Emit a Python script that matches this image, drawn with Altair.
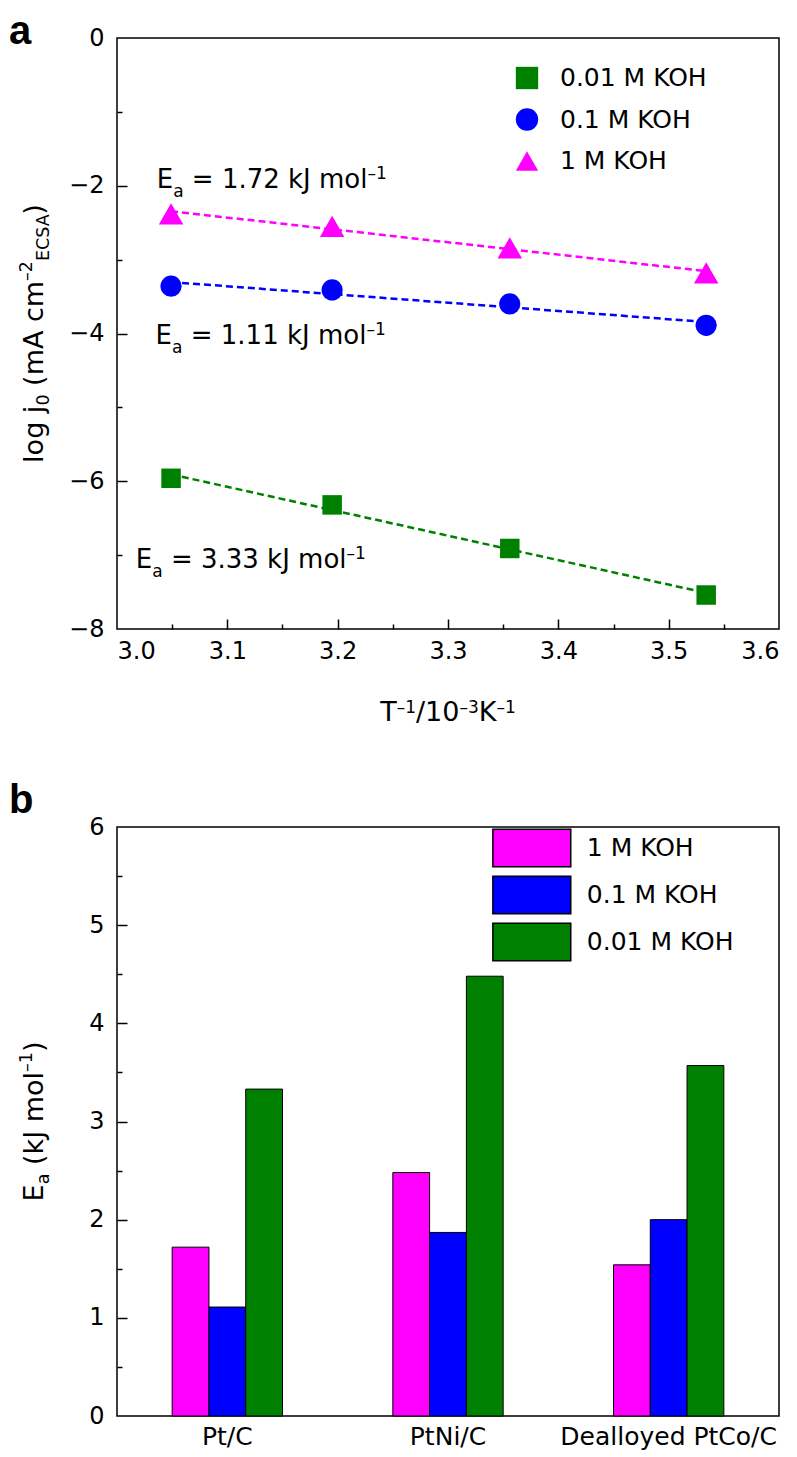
import altair as alt
import pandas as pd

# ---------------- data: panel a ----------------
inv_T = [3.049, 3.195, 3.356, 3.534]
log_j0_001M = [-5.96, -6.32, -6.91, -7.54]
log_j0_01M = [-3.36, -3.41, -3.60, -3.89]
log_j0_1M = [-2.38, -2.55, -2.84, -3.18]
series_a = ["0.01 M KOH", "0.1 M KOH", "1 M KOH"]

ea_text = ["1.72", "1.11", "3.33"]
ea_text_x = [3.036, 3.035, 3.017]
ea_text_y = [-2.03, -4.14, -7.17]

x_labels_a = [3.0, 3.1, 3.2, 3.3, 3.4, 3.5, 3.6]
x_major_a = [3.1, 3.2, 3.3, 3.4, 3.5]
x_minor_a = [3.05, 3.15, 3.25, 3.35, 3.45, 3.55]
y_labels_a = [-8, -6, -4, -2, 0]
y_major_a = [-6, -4, -2]
y_minor_a = [-7, -5, -3, -1]

# ---------------- data: panel b ----------------
catalysts = ["Pt/C", "PtNi/C", "Dealloyed PtCo/C"]
series_b = ["1 M KOH", "0.1 M KOH", "0.01 M KOH"]
ea_1M = [1.72, 2.48, 1.54]
ea_01M = [1.11, 1.87, 2.00]
ea_001M = [3.33, 4.48, 3.57]
y_labels_b = [0, 1, 2, 3, 4, 5, 6]
y_major_b = [1, 2, 3, 4, 5]
y_minor_b = [0.5, 1.5, 2.5, 3.5, 4.5, 5.5]

# ---------------- tables ----------------
df_a = pd.DataFrame({
    "x": inv_T * 3,
    "y": log_j0_001M + log_j0_01M + log_j0_1M,
    "series": [series_a[0]] * 4 + [series_a[1]] * 4 + [series_a[2]] * 4,
})
df_ann = pd.DataFrame({
    "x": ea_text_x,
    "y": ea_text_y,
    "rest": ["= " + v + " kJ mol" for v in ea_text],
})
df_b = pd.DataFrame({
    "catalyst": catalysts * 3,
    "solution": [series_b[0]] * 3 + [series_b[1]] * 3 + [series_b[2]] * 3,
    "ea": ea_1M + ea_01M + ea_001M,
})
dummy = pd.DataFrame({"k": [0]})

# ---------------- styles ----------------
FONT = "DejaVu Sans"
GREEN, BLUE, MAGENTA = "#008000", "#0000ff", "#ff00ff"
colors_a = [GREEN, BLUE, MAGENTA]
W, HA, HB = 662, 591, 589
YT_X = -74

W_DV = {' ': .318, '(': .390, ')': .390, '.': .318, '/': .337, '=': .838, '–': .5,
        'A': .684, 'C': .698, 'E': .632, 'J': .295, 'K': .656, 'M': .863, 'O': .787,
        'S': .635, 'T': .611, 'H': .752, 'a': .613, 'c': .550, 'g': .635, 'j': .278,
        'k': .579, 'l': .278, 'm': .974, 'o': .612}
for d in "0123456789":
    W_DV[d] = .636


def tw(s, size):
    return sum(W_DV.get(ch, 0.6) for ch in s) * size


def compose(pieces):
    """pieces: (text, fontSize, dy) -> list of (text, size, dx, dy), total width"""
    out, cur = [], 0.0
    for t, size, dy in pieces:
        lead = len(t) - len(t.lstrip(" "))
        out.append((t.strip(" "), size, cur + tw(" " * lead, size), dy))
        cur += tw(t, size)
    return out, cur


def ax(**kw):
    return alt.Axis(title=None, grid=False, **kw)


def tick_axis(orient, values, size):
    return ax(orient=orient, values=values, labels=False, domain=False, ticks=True,
              tickSize=size, offset=-size, tickWidth=1.5, tickColor="black")


def text_piece(t, size, x, y, dx, dy, angle=0, align="left"):
    kw = dict(text=t, font=FONT, fontSize=size, align=align, baseline="alphabetic",
              dx=dx, dy=dy, color="black")
    if angle:
        kw["angle"] = angle
    return alt.Chart(dummy).mark_text(**kw).encode(x=alt.value(x), y=alt.value(y))


def ytitle(pieces, h):
    parts, total = compose(pieces)
    return [text_piece(t, s, YT_X, h / 2, -total / 2 + dx, dy, angle=270)
            for t, s, dx, dy in parts]


def letter(t, y):
    return alt.Chart(dummy).mark_text(text=t, font="Liberation Sans", fontWeight="bold",
                                      fontSize=40, align="left", baseline="alphabetic",
                                      color="black").encode(x=alt.value(-108), y=alt.value(y))


# ---------------- panel a ----------------
xs = alt.Scale(domain=[3.0, 3.6], nice=False, zero=False)
ysa = alt.Scale(domain=[-8, 0], nice=False, zero=False)
col_a = alt.Scale(domain=series_a, range=colors_a)
shp_a = alt.Scale(domain=series_a, range=["square", "circle", "triangle-up"])
pt_size = [380, 450, 600]

legend_a = alt.Legend(title=None, orient="none", legendX=397.5, legendY=27.5,
                      labelFontSize=25, labelFont=FONT, labelColor="black", symbolSize=500,
                      rowPadding=15.5, labelOffset=20.5, padding=0, symbolStrokeWidth=0,
                      symbolOpacity=1, labelLimit=400)

base_a = alt.Chart(df_a)

ticks_a1 = base_a.mark_point(opacity=0).encode(
    x=alt.X("x:Q", scale=xs, axis=tick_axis("bottom", x_major_a, 10)),
    y=alt.Y("y:Q", scale=ysa, axis=tick_axis("left", y_major_a, 10)))
ticks_a2 = base_a.mark_point(opacity=0).encode(
    x=alt.X("x:Q", scale=xs, axis=tick_axis("bottom", x_minor_a, 5)),
    y=alt.Y("y:Q", scale=ysa, axis=tick_axis("left", y_minor_a, 5)))

line_layers = []
for i, s in enumerate(series_a):
    line_layers.append(
        base_a.transform_filter(alt.datum.series == s)
        .transform_regression("x", "y")
        .mark_line(strokeDash=[7, 4], strokeWidth=2.5, color=colors_a[i])
        .encode(x=alt.X("x:Q", scale=xs, axis=None), y=alt.Y("y:Q", scale=ysa, axis=None)))

point_layers = []
for i, s in enumerate(series_a):
    if i == 0:
        xa = ax(orient="bottom", values=x_labels_a, format=".1f", ticks=False, domain=False,
                labelPadding=10, labelFontSize=24)
        ya = ax(orient="left", values=y_labels_a, format="d", ticks=False, domain=False,
                labelPadding=13, labelFontSize=24)
    else:
        xa, ya = None, None
    point_layers.append(
        base_a.transform_filter(alt.datum.series == s).mark_point(
            filled=True, opacity=1, size=pt_size[i], strokeWidth=0).encode(
            x=alt.X("x:Q", scale=xs, axis=xa),
            y=alt.Y("y:Q", scale=ysa, axis=ya),
            color=alt.Color("series:N", scale=col_a, legend=legend_a),
            shape=alt.Shape("series:N", scale=shp_a, legend=legend_a)))

# E_a annotations
ann_parts, _ = compose([("E", 26, 0), ("a", 17, 9), (" = 1.72 kJ mol", 26, 0), ("–1", 17, -9)])
ann_layers = []
for j, (t, size, dx, dy) in enumerate(ann_parts):
    mk = dict(font=FONT, fontSize=size, align="left", baseline="alphabetic", dx=dx, dy=dy,
              color="black")
    enc = dict(x=alt.X("x:Q", scale=xs, axis=None), y=alt.Y("y:Q", scale=ysa, axis=None))
    if j == 2:
        ann_layers.append(alt.Chart(df_ann).mark_text(**mk).encode(text="rest:N", **enc))
    else:
        ann_layers.append(alt.Chart(df_ann).mark_text(text=t, **mk).encode(**enc))

# x title
xt_parts, xt_total = compose([("T", 27, 0), ("–1", 17, -8), ("/10", 27, 0), ("–3", 17, -8),
                              ("K", 27, 0), ("–1", 17, -8)])
xtitle_a = [text_piece(t, s, W / 2, HA + 92, -xt_total / 2 + dx, dy) for t, s, dx, dy in xt_parts]

ytitle_a = ytitle([("log j", 27, 0), ("0", 17.5, 6), (" (mA cm", 27, 0), ("–2", 17.5, -11),
                   ("ECSA", 17.5, 6), (")", 27, 0)], HA)

panel_a = alt.layer(
    ticks_a1, ticks_a2, *line_layers, *point_layers, *ann_layers, *xtitle_a, *ytitle_a,
    letter("a", 6)
).resolve_axis(x="independent", y="independent").properties(width=W, height=HA)

# ---------------- panel b ----------------
ysb = alt.Scale(domain=[0, 6], nice=False, zero=True)
col_b = alt.Scale(domain=series_b, range=[MAGENTA, BLUE, GREEN])
legend_b = alt.Legend(title=None, orient="none", legendX=374.8, legendY=1,
                      symbolType="M-2.05,-0.99H2.05V0.99H-2.05Z", symbolSize=1444,
                      symbolStrokeColor="black", symbolStrokeWidth=1.5, symbolOffset=20,
                      labelOffset=35, rowPadding=3, labelFontSize=25, labelFont=FONT,
                      labelColor="black", padding=0, symbolOpacity=1, labelLimit=400)

bars = alt.Chart(df_b).mark_bar(stroke="black", strokeWidth=1).encode(
    x=alt.X("catalyst:N", sort=catalysts,
            scale=alt.Scale(paddingInner=0.5, paddingOuter=0.25),
            axis=ax(orient="bottom", labelAngle=0, ticks=False, domain=False, labelPadding=8,
                    labelFontSize=25, labelLimit=400)),
    xOffset=alt.XOffset("solution:N", sort=series_b,
                        scale=alt.Scale(domain=series_b, paddingInner=0, paddingOuter=0)),
    y=alt.Y("ea:Q", scale=ysb, axis=ax(orient="left", values=y_labels_b, format="d", ticks=False,
                                       domain=False, labelPadding=13, labelFontSize=24)),
    color=alt.Color("solution:N", scale=col_b, legend=legend_b))

ticks_b1 = alt.Chart(df_b).mark_point(opacity=0).encode(
    y=alt.Y("ea:Q", scale=ysb, axis=tick_axis("left", y_major_b, 10)))
ticks_b2 = alt.Chart(df_b).mark_point(opacity=0).encode(
    y=alt.Y("ea:Q", scale=ysb, axis=tick_axis("left", y_minor_b, 5)))

ytitle_b = ytitle([("E", 27, 0), ("a", 17.5, 6), (" (kJ mol", 27, 0), ("–1", 17.5, -11),
                   (")", 27, 0)], HB)

panel_b = alt.layer(
    ticks_b1, ticks_b2, bars, *ytitle_b, letter("b", -14)
).resolve_axis(x="independent", y="independent").properties(width=W, height=HB)

chart = alt.vconcat(panel_a, panel_b, spacing=53).resolve_scale(
    color="independent", shape="independent"
).resolve_legend(color="independent", shape="independent").properties(
    padding={"left": 0, "top": 3, "right": 0, "bottom": 1}
).configure_view(stroke="black", strokeWidth=1.5).configure_axis(
    labelFont=FONT, labelColor="black")

chart.save("out.html", embed_options={"renderer": "svg", "actions": False})
